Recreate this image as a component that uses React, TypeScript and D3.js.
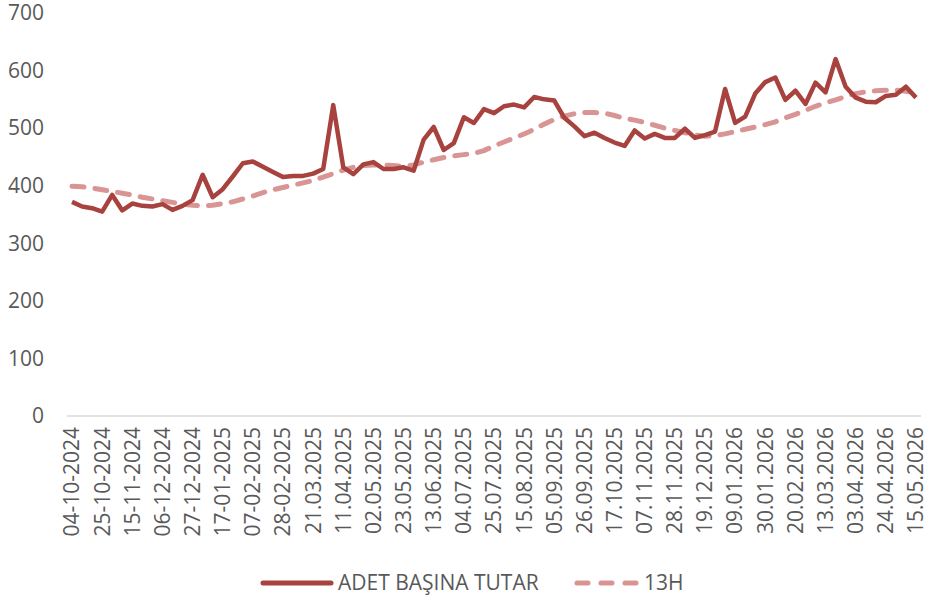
import React, { useEffect, useRef } from "react";
import * as d3 from "d3";

// weekly values, 04-10-2024 .. 15-05-2026 (85 weeks)
const adetBasinaTutar = [
  372, 364, 361, 355, 384, 357, 369, 365, 364, 368, 358, 365, 375, 419, 380,
  394, 416, 439, 442, 433, 424, 415, 417, 417, 421, 429, 540, 432, 420, 437,
  441, 429, 429, 432, 426, 480, 502, 462, 474, 519, 509, 533, 526, 538, 541,
  536, 554, 550, 548, 518, 503, 486, 492, 483, 475, 469, 496, 482, 490, 483,
  483, 499, 483, 488, 494, 568, 509, 520, 560, 580, 588, 549, 565, 542, 579,
  562, 620, 572, 553, 546, 545, 556, 558, 572, 553,
];

const ort13H = [
  399, 398, 396, 393, 390, 387, 384, 380, 377, 374, 371, 368, 366, 365, 366,
  369, 372, 377, 382, 388, 393, 397, 401, 405, 409, 415, 421, 427, 432, 435,
  436, 436, 435, 434, 436, 441, 445, 449, 452, 454, 456, 461, 469, 476, 483,
  490, 498, 507, 515, 521, 525, 527, 527, 526, 522, 517, 514, 510, 505, 500,
  496, 492, 488, 486, 487, 490, 494, 498, 502, 506, 511, 518, 524, 531, 538,
  544, 549, 555, 560, 563, 565, 566, 566, 564, 562,
];

// every third week is labelled
const tickLabels = [
  "04-10-2024", "25-10-2024", "15-11-2024", "06-12-2024", "27-12-2024",
  "17-01-2025", "07-02-2025", "28-02-2025", "21.03.2025", "11.04.2025",
  "02.05.2025", "23.05.2025", "13.06.2025", "04.07.2025", "25.07.2025",
  "15.08.2025", "05.09.2025", "26.09.2025", "17.10.2025", "07.11.2025",
  "28.11.2025", "19.12.2025", "09.01.2026", "30.01.2026", "20.02.2026",
  "13.03.2026", "03.04.2026", "24.04.2026", "15.05.2026",
];

const yTicks = [0, 100, 200, 300, 400, 500, 600, 700];

const seriesNames = ["ADET BAŞINA TUTAR", "13H"];

const W = 930;
const H = 603;
const FONT = "'Open Sans', sans-serif";
const FS = 21;
const TEXT = "#595959";
const MAIN = "#a8423f";
const AVG = "#d99594";

export default function App() {
  const ref = useRef<SVGSVGElement | null>(null);

  useEffect(() => {
    const svg = d3.select(ref.current);
    svg.selectAll("*").remove();

    const idx = d3.range(adetBasinaTutar.length);
    const x = d3.scaleBand<number>().domain(idx).range([67, 921]);
    const cx = (i: number) => (x(i) as number) + x.bandwidth() / 2;
    const y = d3.scaleLinear().domain([0, 700]).range([416, 13]);

    // y labels
    svg
      .append("g")
      .selectAll("text")
      .data(yTicks)
      .join("text")
      .attr("x", 44)
      .attr("y", (d) => y(d))
      .attr("dy", "0.35em")
      .attr("text-anchor", "end")
      .attr("font-family", FONT)
      .attr("font-size", FS)
      .attr("fill", TEXT)
      .text((d) => d);

    // x axis line
    svg
      .append("line")
      .attr("x1", 67)
      .attr("x2", 921)
      .attr("y1", y(0))
      .attr("y2", y(0))
      .attr("stroke", "#d9d9d9")
      .attr("stroke-width", 1.5);

    svg
      .append("g")
      .selectAll("text")
      .data(tickLabels)
      .join("text")
      .attr("transform", (_, i) => `translate(${cx(i * 3)},${y(0) + 11}) rotate(-90)`)
      .attr("dy", "0.35em")
      .attr("text-anchor", "end")
      .attr("font-family", FONT)
      .attr("font-size", FS)
      .attr("fill", TEXT)
      .text((d) => d);

    const line = d3
      .line<number>()
      .x((_, i) => cx(i))
      .y((d) => y(d));

    svg
      .append("path")
      .datum(ort13H)
      .attr("d", line)
      .attr("fill", "none")
      .attr("stroke", AVG)
      .attr("stroke-width", 5)
      .attr("stroke-linecap", "round")
      .attr("stroke-dasharray", "12 11");

    svg
      .append("path")
      .datum(adetBasinaTutar)
      .attr("d", line)
      .attr("fill", "none")
      .attr("stroke", MAIN)
      .attr("stroke-width", 4.5)
      .attr("stroke-linejoin", "round");

    // legend
    const lg = svg.append("g").attr("font-family", FONT).attr("font-size", FS).attr("fill", TEXT);
    lg.append("line")
      .attr("x1", 263).attr("x2", 331).attr("y1", 583).attr("y2", 583)
      .attr("stroke", MAIN).attr("stroke-width", 5).attr("stroke-linecap", "round");
    lg.append("text").attr("x", 338).attr("y", 583).attr("dy", "0.35em").text(seriesNames[0]);
    lg.append("line")
      .attr("x1", 577).attr("x2", 637).attr("y1", 583).attr("y2", 583)
      .attr("stroke", AVG).attr("stroke-width", 5).attr("stroke-linecap", "round")
      .attr("stroke-dasharray", "11 13");
    lg.append("text").attr("x", 644).attr("y", 583).attr("dy", "0.35em").text(seriesNames[1]);
  }, []);

  return (
    <svg
      ref={ref}
      width={W}
      height={H}
      style={{ position: "absolute", left: 0, top: 0, background: "#fff" }}
    />
  );
}
